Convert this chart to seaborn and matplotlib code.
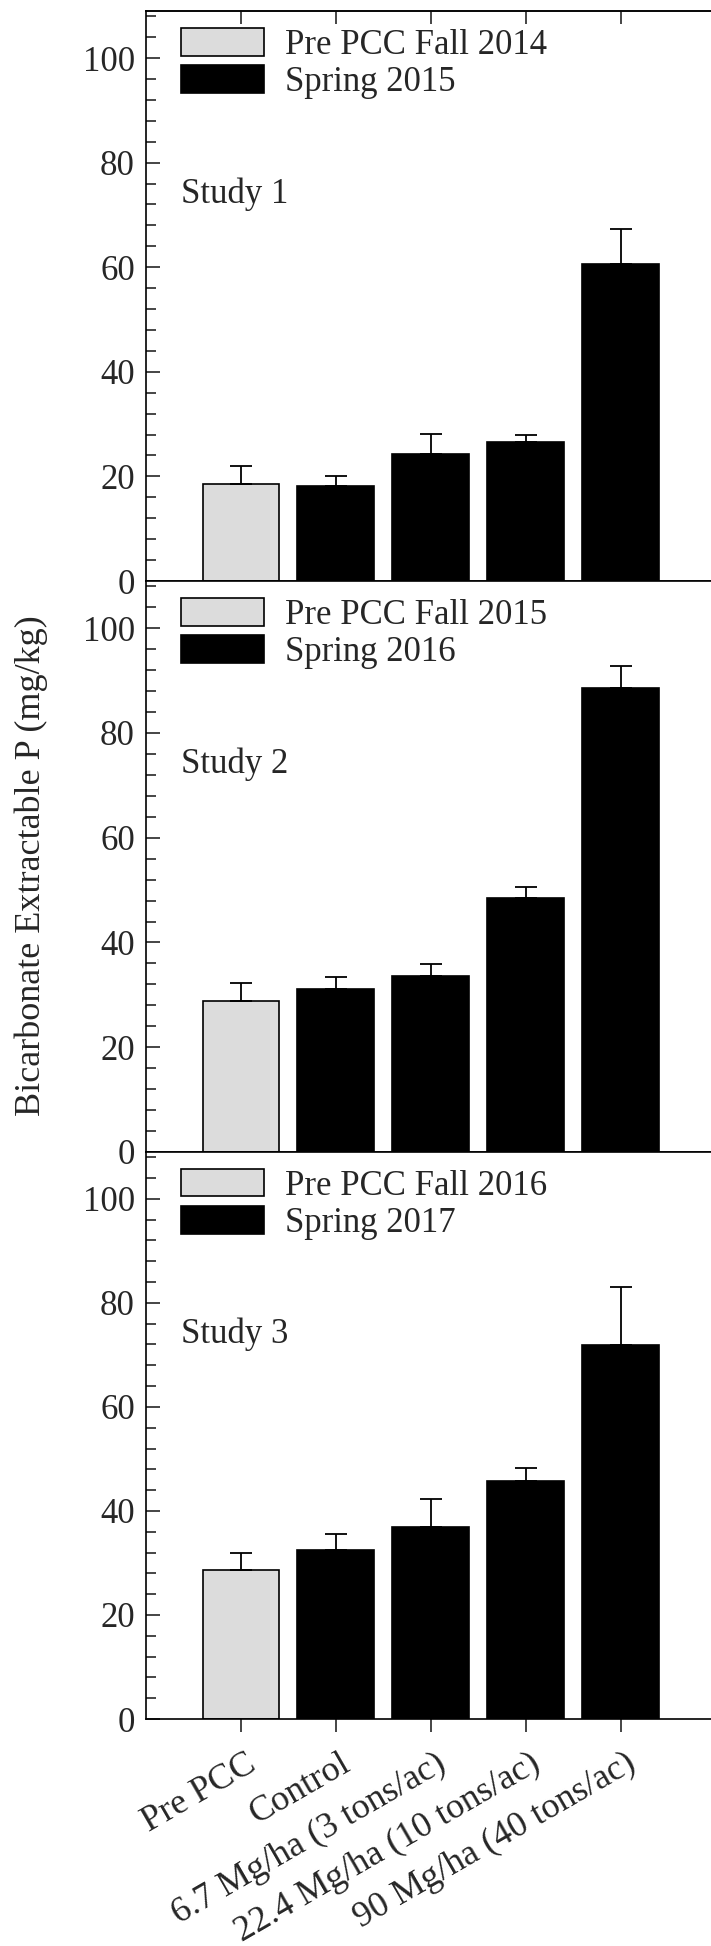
import numpy as np
import pandas as pd
import seaborn as sns
import matplotlib
matplotlib.use("Agg")
import matplotlib.pyplot as plt
from matplotlib.patches import Patch
import matplotlib.transforms as mtransforms

categories = ["Pre PCC", "Control", "6.7 Mg/ha (3 tons/ac)",
              "22.4 Mg/ha (10 tons/ac)", "90 Mg/ha (40 tons/ac)"]
study1_mean = [18.6, 18.2, 24.3, 26.6, 60.7]
study1_upper = [21.9, 20.0, 28.2, 27.9, 67.3]
study2_mean = [28.8, 31.2, 33.6, 48.5, 88.5]
study2_upper = [32.3, 33.4, 35.8, 50.6, 92.7]
study3_mean = [28.6, 32.5, 36.9, 45.8, 71.9]
study3_upper = [31.9, 35.5, 42.3, 48.2, 83.0]
study_names = ["Study 1", "Study 2", "Study 3"]
legend_pre = ["Pre PCC Fall 2014", "Pre PCC Fall 2015", "Pre PCC Fall 2016"]
legend_spring = ["Spring 2015", "Spring 2016", "Spring 2017"]
y_label = "Bicarbonate Extractable P (mg/kg)"

means = [study1_mean, study2_mean, study3_mean]
uppers = [study1_upper, study2_upper, study3_upper]

sns.set_theme(style="ticks")
plt.rcParams["font.family"] = ["Liberation Serif", "DejaVu Serif"]
plt.rcParams["font.size"] = 25

W, H = 711, 1946
fig = plt.figure(figsize=(W / 100, H / 100), dpi=100)

light = "#dcdcdc"
palette = [light, "black", "black", "black", "black"]
left = 146 / W
width = 1.0 - left
panel_px = [(11, 581), (581, 1152), (1152, 1719)]
lw = 1.2

axes = []
for i in range(3):
    top_px, bot_px = panel_px[i]
    ax = fig.add_axes([left, (H - bot_px) / H, width, (bot_px - top_px) / H])
    axes.append(ax)
    df = pd.DataFrame({"cat": categories, "val": means[i]})
    sns.barplot(data=df, x="cat", y="val", hue="cat", palette=palette,
                order=categories, hue_order=categories, legend=False,
                width=0.81, edgecolor="black", linewidth=lw, ax=ax,
                saturation=1, errorbar=None)
    xs = np.arange(len(categories))
    m = np.array(means[i]); u = np.array(uppers[i])
    ax.errorbar(xs, m, yerr=[np.zeros_like(m), u - m], fmt="none",
                ecolor="black", elinewidth=1.3, capsize=8, capthick=1.3,
                zorder=1)
    ax.set_xlim(-1, 4.95)
    ax.set_ylim(0, 109)
    ax.set_yticks(np.arange(0, 101, 20))
    ax.set_yticks(np.arange(0, 109, 4), minor=True)
    ax.tick_params(axis="y", which="major", direction="in", length=10,
                   width=lw, labelsize=25, pad=8)
    ax.tick_params(axis="y", which="minor", direction="in", length=7,
                   width=lw)
    ax.tick_params(axis="x", which="major", direction="out", length=9.5,
                   width=lw, labelsize=26)
    ax.set_xlabel("")
    ax.set_ylabel("")
    for s in ["top", "left", "bottom"]:
        ax.spines[s].set_linewidth(lw)
        ax.spines[s].set_color("black")
    ax.spines["right"].set_visible(False)
    ax.text(-0.63, 74, study_names[i], ha="left", va="center", fontsize=25)
    handles = [Patch(facecolor=light, edgecolor="black", linewidth=lw),
               Patch(facecolor="black", edgecolor="black", linewidth=lw)]
    ax.legend(handles, [legend_pre[i], legend_spring[i]], loc="upper left",
              bbox_to_anchor=(0.062, 0.97), frameon=False, borderpad=0,
              borderaxespad=0, handlelength=2.4, handleheight=0.84,
              handletextpad=0.6, labelspacing=0.1, fontsize=25)
    ax.set_xticks(xs)
    if i < 2:
        ax.set_xticklabels([])
    else:
        ax.set_xticklabels(categories, rotation=30, ha="right",
                           rotation_mode="anchor")
        offset = mtransforms.ScaledTranslation(4 / 100, -10 / 100,
                                               fig.dpi_scale_trans)
        for lab in ax.get_xticklabels():
            lab.set_transform(lab.get_transform() + offset)

sec = axes[0].secondary_xaxis("top")
sec.set_xticks(np.arange(len(categories)))
sec.tick_params(direction="in", length=9.5, width=lw, labeltop=False)
sec.spines["top"].set_linewidth(lw)

fig.text(31 / W, (H - 866) / H, y_label, rotation=90, ha="center",
         va="center", fontsize=26)

fig.savefig("out.png", dpi=100)
